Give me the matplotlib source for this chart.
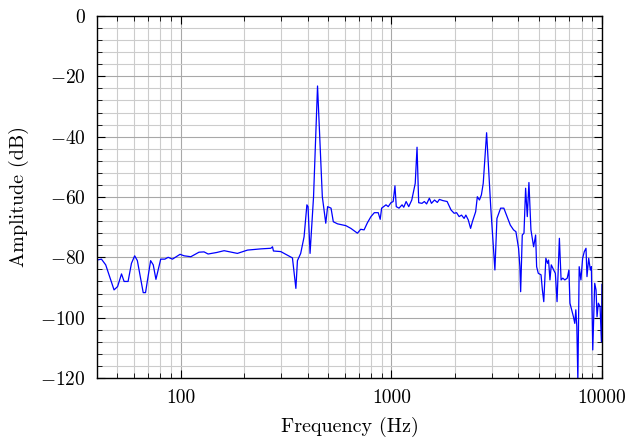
import numpy as np
import matplotlib
matplotlib.use("Agg")
import matplotlib.pyplot as plt
from matplotlib.ticker import FixedLocator, FuncFormatter, MultipleLocator

plt.rcParams['font.family'] = 'serif'
plt.rcParams['font.serif'] = ['cmr10']
plt.rcParams['mathtext.fontset'] = 'cm'
plt.rcParams['axes.formatter.use_mathtext'] = True

freq = [40, 42, 44, 48.2, 50.1, 52.3, 53.8, 56.2, 58.3, 60.4, 62.2, 66.3, 68,
        71.9, 74, 76.2, 80.3, 84, 87.1, 91.3, 99.2, 103.7, 111.6, 122, 129,
        134.8, 148, 160.6, 185.7, 207.5, 239.9, 267.7, 272.6, 275.4, 298.4,
        339, 352, 358, 371, 385, 397, 402, 411, 427, 446, 470, 488, 498, 517,
        530, 555, 608, 642, 690, 715, 742, 770,
        800, 830, 866, 885, 899, 943, 966, 995, 1020, 1040, 1055, 1087, 1124,
        1145, 1175, 1209, 1250, 1298, 1324, 1348, 1398, 1434, 1470, 1515,
        1550, 1603, 1653, 1690, 1757, 1840, 1920, 1987, 2040, 2098, 2153,
        2215, 2258, 2318, 2378, 2425, 2513, 2560, 2620, 2676, 2730, 2833,
        2963, 3102, 3172, 3303, 3420, 3543, 3670, 3803, 3903, 4018, 4076,
        4111, 4184, 4263, 4340, 4420, 4500, 4600, 4737, 4842, 4895, 4985,
        5137, 5213, 5293, 5415, 5515, 5577, 5663, 5746, 5898, 6008, 6120,
        6278, 6397, 6515, 6662, 6842, 6968, 7047, 7183, 7321, 7430, 7514,
        7598, 7684, 7796, 7945, 8095, 8245, 8399, 8490, 8651, 8807, 8906,
        9043, 9239, 9373, 9476, 9613, 9795, 9940, 10000]
amp = [-80.9, -80.6, -82.5, -90.8, -89.7, -85.5, -88, -88, -82, -79.5, -81.1,
       -91.7, -91.7, -81.1, -82.5, -87.3, -80.6, -80.6, -80, -80.6, -79,
       -79.5, -79.8, -78.3, -78.2, -78.9, -78.4, -77.8, -78.7, -77.6, -77.2,
       -77, -76.5, -77.9, -78.1, -80.2, -90.3, -81.1, -78.7, -73.2, -62.6,
       -63.2, -78.7, -59.9, -23.2, -59.9, -68.7, -63.2, -63.7, -68.2, -68.9,
       -69.5, -70.4, -72, -70.7, -70.9, -68.5,
       -66.5, -65.2, -65.2, -67.4, -63.7, -62.6, -63.2, -61.9, -61.5, -56.3,
       -63.2, -63.7, -62.6, -63.4, -61.5, -63.2, -61, -55.5, -43.5, -61.9,
       -62.1, -61.5, -62.3, -60.4, -62.1, -61, -61.8, -60.8, -61.2, -61.5,
       -64.3, -65.4, -65.2, -66.5, -66, -67.1, -66, -67.6, -70.4, -68.2,
       -64.9, -59.9, -61, -59.3, -55.5, -38.7,
       -63.2, -84.2, -67.1, -63.7, -63.7, -66.5, -69.3, -70.9, -71.5, -77,
       -83.1, -91.4, -72.6, -72, -57.1, -66.5, -55.2, -70.9, -76.5, -72.6,
       -83.1, -85.3, -85.8, -90.8, -94.7, -80.3, -82, -80.9, -87.5, -82.5,
       -84.2, -85.3, -94.7, -73.7, -87.5, -86.9, -87.5, -86.9, -84.2, -95.2,
       -97.4, -99.7, -101.9, -97.4, -103, -121, -83.1, -87.5, -80.3, -78.1,
       -77, -86.4, -80.3, -84.2, -83.1, -110.7, -88.6, -90.8, -99.7, -95.2,
       -96.3, -108, -89]

xticks = [100, 1000, 10000]
yticks = [-120, -100, -80, -60, -40, -20, 0]

fig = plt.figure(figsize=(6.29, 4.41), dpi=100)
ax = fig.add_axes([0.1542, 0.1429, 0.8028, 0.8208])

ax.plot(freq, amp, color='#0000ff', lw=0.9)

ax.set_xscale('log')
ax.set_xlim(40, 10000)
ax.set_ylim(-120, 0)
ax.xaxis.set_major_locator(FixedLocator(xticks))
ax.xaxis.set_major_formatter(FuncFormatter(lambda v, p: '%d' % v))
minors = [m * 10**e for e in range(1, 4) for m in range(2, 10)]
ax.xaxis.set_minor_locator(FixedLocator([v for v in minors if 40 <= v <= 10000]))
ax.xaxis.set_minor_formatter(FuncFormatter(lambda v, p: ''))
ax.yaxis.set_major_locator(FixedLocator(yticks))
ax.yaxis.set_major_formatter(FuncFormatter(lambda v, p: '$%d$' % v))
ax.yaxis.set_minor_locator(MultipleLocator(4))

ax.grid(which='major', color='#a8a8a8', lw=0.8)
ax.grid(which='minor', color='#cccccc', lw=0.8)
ax.set_axisbelow(True)
ax.tick_params(which='both', direction='in', top=True, right=True, labelsize=14)
ax.tick_params(which='major', length=6, width=0.8, pad=8)
ax.tick_params(which='minor', length=3.5, width=0.6)
for s in ax.spines.values():
    s.set_linewidth(1.0)

ax.set_xlabel('Frequency (Hz)', fontsize=14.5, labelpad=7)
ax.set_ylabel('Amplitude (dB)', fontsize=14.5, labelpad=8)

fig.savefig('out.png', dpi=100)
